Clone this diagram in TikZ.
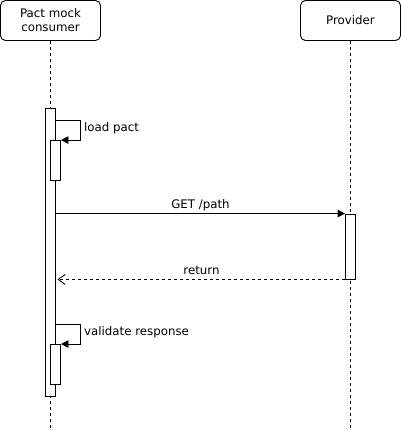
\documentclass[tikz,border=0pt]{standalone}
\usepackage{fontspec}
\setmainfont{DejaVu Sans}
\usetikzlibrary{arrows.meta,calc}
\begin{document}
\begin{tikzpicture}[x=1pt,y=-1pt,
  every node/.style={font=\fontsize{11.8}{14}\selectfont},
  participant/.style={draw,line width=0.9pt,rounded corners=5pt,minimum width=100pt,minimum height=40pt,inner sep=0pt,align=center},
  actbox/.style={draw,fill=white,line width=0.9pt,minimum width=10pt,inner sep=0pt},
  lifeline/.style={line width=0.9pt,dash pattern=on 3pt off 3pt},
  msg/.style={line width=0.9pt,-{Triangle[length=7.5pt,width=7.5pt]}},
  ret/.style={line width=0.9pt,dash pattern=on 3pt off 3pt,-{Straight Barb[length=7pt,width=10pt,line width=0.9pt]}},
  lbl/.style={inner sep=0pt}]
\useasboundingbox (0,0) rectangle (401,431);
\node[participant] (cons) at (50.5,20.5) {Pact mock\\consumer};
\node[participant] (prov) at (350.5,20.5) {Provider};
\coordinate (consend) at (50.5,431);
\coordinate (provend) at (350.5,431);
\draw[lifeline] (cons.south) -- (consend);
\draw[lifeline] (prov.south) -- (provend);
% activations
\node[actbox,minimum height=288pt] (act1) at (50.5,252) {};
\node[actbox,minimum height=40pt] (act2) at (55.5,160.5) {};
\node[actbox,minimum height=65pt] (act3) at (350.5,246.5) {};
\node[actbox,minimum height=40pt] (act4) at (55.5,364.5) {};
% load pact
\coordinate (l1) at (80.5,120.5);
\draw[msg] (act1.east |- l1) -| (act2.north east -| l1) -- (act2.north east);
\node[lbl,anchor=west] (t1) at (84,128.5) {load pact};
% GET /path
\draw[msg] (act1.east |- act3.north) -- (act3.north west);
\node[lbl] (t2) at (200.5,205.5) {GET /path};
% return
\draw[ret] (act3.south west) -- ($(act1.east |- act3.south)+(1.5,0)$);
\node[lbl] (t3) at (201.5,270.5) {return};
% validate response
\coordinate (l2) at (80.5,324.5);
\draw[msg] (act1.east |- l2) -| (act4.north east -| l2) -- (act4.north east);
\node[lbl,anchor=west] (t4) at (84,332.5) {validate response};
\end{tikzpicture}
\end{document}
